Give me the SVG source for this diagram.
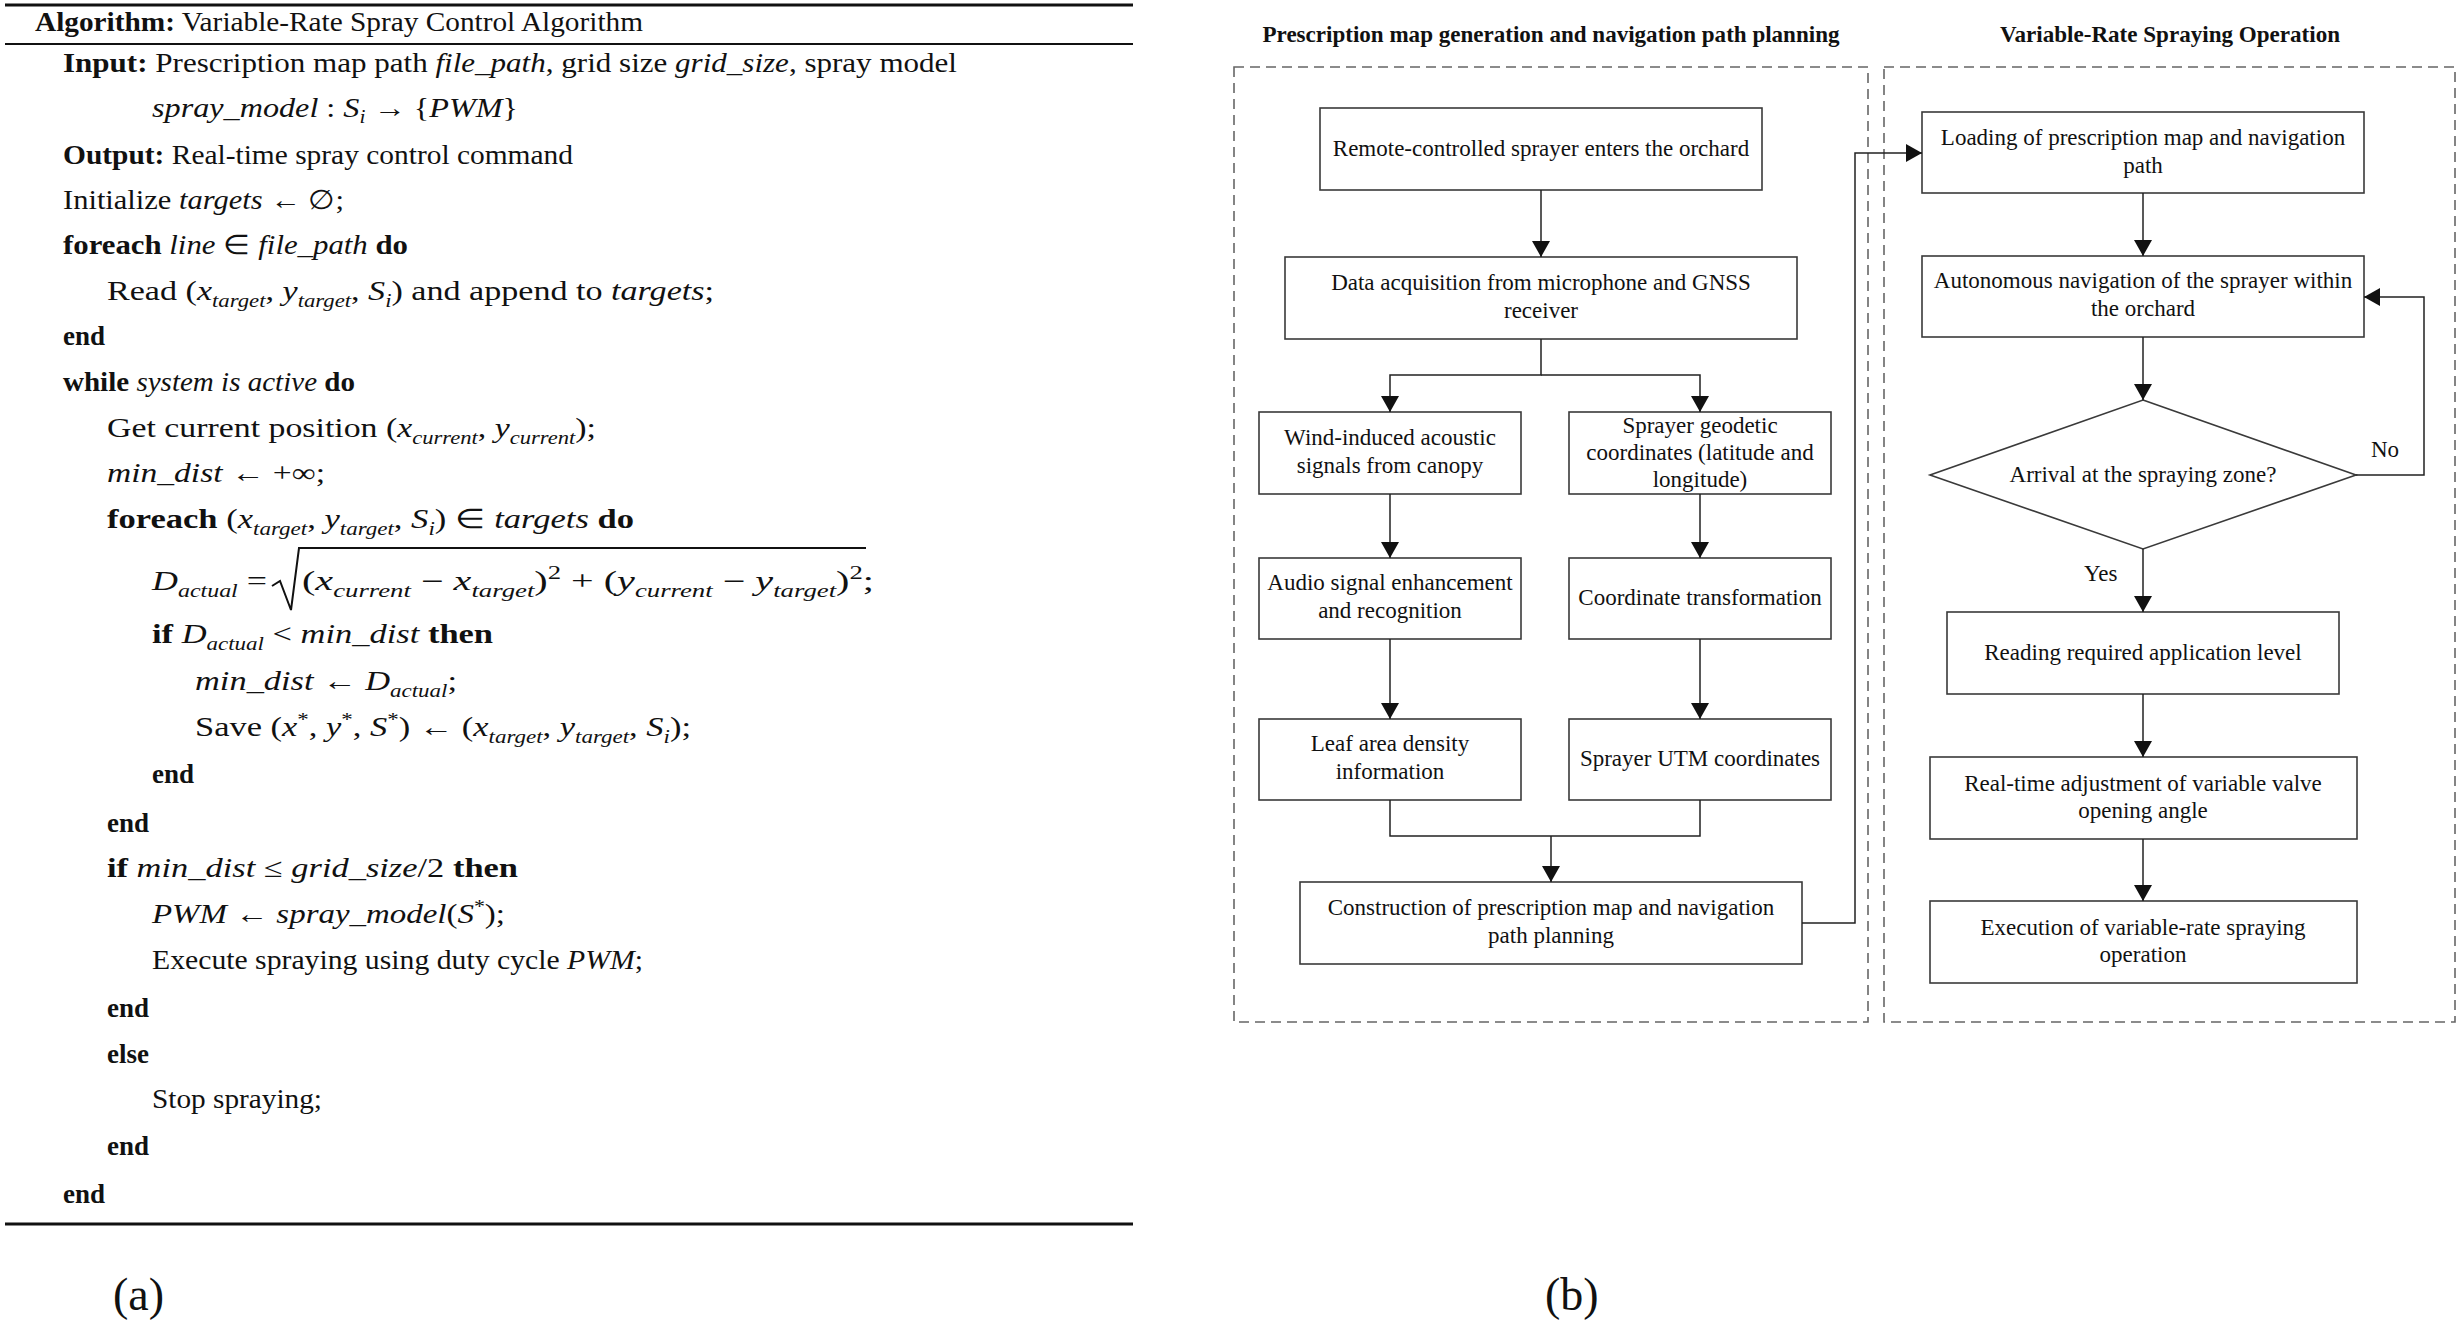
<svg xmlns="http://www.w3.org/2000/svg" width="2461" height="1324" viewBox="0 0 2461 1324">
<style>
text{font-family:"Liberation Serif","Times New Roman",serif;fill:#111}
.alg{font-size:27px}
.b{font-weight:bold}
.i{font-style:italic}
.sub{font-size:18px;font-style:italic}
.node rect,.node polygon{fill:#fff;stroke:#3a3a3a;stroke-width:1.6}
.node text{font-size:23px;text-anchor:middle}
.hdr{font-size:22.5px;font-weight:bold;text-anchor:middle}
.dash{fill:none;stroke:#666;stroke-width:1.6;stroke-dasharray:10 6}
#connectors path{fill:none;stroke:#222;stroke-width:1.5}
.rule{stroke:#111}
</style>
<defs>
<marker id="ah" markerUnits="userSpaceOnUse" markerWidth="18" markerHeight="18" refX="16" refY="9" orient="auto">
<path d="M0,0 L16,9 L0,18 z" fill="#111"/>
</marker>
</defs>
<rect width="2461" height="1324" fill="#fff"/>

<!-- (a) Algorithm -->
<g id="algorithm">
<line class="rule" x1="5" y1="5" x2="1133" y2="5" stroke-width="3"/>
<line class="rule" x1="5" y1="44" x2="1133" y2="44" stroke-width="2"/>
<line class="rule" x1="5" y1="1224" x2="1133" y2="1224" stroke-width="3"/>

<text class="alg" x="35" y="31" textLength="608" lengthAdjust="spacingAndGlyphs"><tspan class="b">Algorithm:</tspan> Variable-Rate Spray Control Algorithm</text>
<text class="alg" x="63" y="72" textLength="894" lengthAdjust="spacingAndGlyphs"><tspan class="b">Input:</tspan> Prescription map path <tspan class="i">file_path</tspan>, grid size <tspan class="i">grid_size</tspan>, spray model</text>
<text class="alg" x="152" y="117" textLength="366" lengthAdjust="spacingAndGlyphs"><tspan class="i">spray_model</tspan> : <tspan class="i">S</tspan><tspan class="sub" dy="6">i</tspan><tspan dy="-6"> → {</tspan><tspan class="i">PWM</tspan>}</text>
<text class="alg" x="63" y="164" textLength="510" lengthAdjust="spacingAndGlyphs"><tspan class="b">Output:</tspan> Real-time spray control command</text>
<text class="alg" x="63" y="209" textLength="281" lengthAdjust="spacingAndGlyphs">Initialize <tspan class="i">targets</tspan> ← ∅;</text>
<text class="alg" x="63" y="254" textLength="345" lengthAdjust="spacingAndGlyphs"><tspan class="b">foreach</tspan> <tspan class="i">line</tspan> ∈ <tspan class="i">file_path</tspan> <tspan class="b">do</tspan></text>
<text class="alg" x="107" y="300" textLength="607" lengthAdjust="spacingAndGlyphs">Read (<tspan class="i">x</tspan><tspan class="sub" dy="7">target</tspan><tspan dy="-7">, </tspan><tspan class="i">y</tspan><tspan class="sub" dy="7">target</tspan><tspan dy="-7">, </tspan><tspan class="i">S</tspan><tspan class="sub" dy="7">i</tspan><tspan dy="-7">) and append to </tspan><tspan class="i">targets</tspan>;</text>
<text class="alg b" x="63" y="345">end</text>
<text class="alg" x="63" y="391" textLength="292" lengthAdjust="spacingAndGlyphs"><tspan class="b">while</tspan> <tspan class="i">system is active</tspan> <tspan class="b">do</tspan></text>
<text class="alg" x="107" y="437" textLength="489" lengthAdjust="spacingAndGlyphs">Get current position (<tspan class="i">x</tspan><tspan class="sub" dy="7">current</tspan><tspan dy="-7">, </tspan><tspan class="i">y</tspan><tspan class="sub" dy="7">current</tspan><tspan dy="-7">);</tspan></text>
<text class="alg" x="107" y="482" textLength="218" lengthAdjust="spacingAndGlyphs"><tspan class="i">min_dist</tspan> ← +∞;</text>
<text class="alg" x="107" y="528" textLength="527" lengthAdjust="spacingAndGlyphs"><tspan class="b">foreach</tspan> (<tspan class="i">x</tspan><tspan class="sub" dy="7">target</tspan><tspan dy="-7">, </tspan><tspan class="i">y</tspan><tspan class="sub" dy="7">target</tspan><tspan dy="-7">, </tspan><tspan class="i">S</tspan><tspan class="sub" dy="7">i</tspan><tspan dy="-7">) ∈ </tspan><tspan class="i">targets</tspan> <tspan class="b">do</tspan></text>
<text class="alg" x="152" y="590" textLength="115" lengthAdjust="spacingAndGlyphs"><tspan class="i">D</tspan><tspan class="sub" dy="7">actual</tspan><tspan dy="-7"> =</tspan></text>
<path d="M272 586 L280 581 L291 610 L299 548 L866 548" fill="none" stroke="#111" stroke-width="2"/>
<text class="alg" x="302" y="590" textLength="572" lengthAdjust="spacingAndGlyphs">(<tspan class="i">x</tspan><tspan class="sub" dy="7">current</tspan><tspan dy="-7"> − </tspan><tspan class="i">x</tspan><tspan class="sub" dy="7">target</tspan><tspan dy="-7">)</tspan><tspan font-size="18" dy="-11">2</tspan><tspan dy="11"> + (</tspan><tspan class="i">y</tspan><tspan class="sub" dy="7">current</tspan><tspan dy="-7"> − </tspan><tspan class="i">y</tspan><tspan class="sub" dy="7">target</tspan><tspan dy="-7">)</tspan><tspan font-size="18" dy="-11">2</tspan><tspan dy="11">;</tspan></text>
<text class="alg" x="152" y="643" textLength="341" lengthAdjust="spacingAndGlyphs"><tspan class="b">if</tspan> <tspan class="i">D</tspan><tspan class="sub" dy="7">actual</tspan><tspan dy="-7"> &lt; </tspan><tspan class="i">min_dist</tspan> <tspan class="b">then</tspan></text>
<text class="alg" x="195" y="690" textLength="262" lengthAdjust="spacingAndGlyphs"><tspan class="i">min_dist</tspan> ← <tspan class="i">D</tspan><tspan class="sub" dy="7">actual</tspan><tspan dy="-7">;</tspan></text>
<text class="alg" x="195" y="736" textLength="496" lengthAdjust="spacingAndGlyphs">Save (<tspan class="i">x</tspan><tspan font-size="18" dy="-10">*</tspan><tspan dy="10">, </tspan><tspan class="i">y</tspan><tspan font-size="18" dy="-10">*</tspan><tspan dy="10">, </tspan><tspan class="i">S</tspan><tspan font-size="18" dy="-10">*</tspan><tspan dy="10">) ← (</tspan><tspan class="i">x</tspan><tspan class="sub" dy="7">target</tspan><tspan dy="-7">, </tspan><tspan class="i">y</tspan><tspan class="sub" dy="7">target</tspan><tspan dy="-7">, </tspan><tspan class="i">S</tspan><tspan class="sub" dy="7">i</tspan><tspan dy="-7">);</tspan></text>
<text class="alg b" x="152" y="783">end</text>
<text class="alg b" x="107" y="832">end</text>
<text class="alg" x="107" y="877" textLength="411" lengthAdjust="spacingAndGlyphs"><tspan class="b">if</tspan> <tspan class="i">min_dist</tspan> ≤ <tspan class="i">grid_size</tspan>/2 <tspan class="b">then</tspan></text>
<text class="alg" x="152" y="923" textLength="353" lengthAdjust="spacingAndGlyphs"><tspan class="i">PWM</tspan> ← <tspan class="i">spray_model</tspan>(<tspan class="i">S</tspan><tspan font-size="18" dy="-10">*</tspan><tspan dy="10">);</tspan></text>
<text class="alg" x="152" y="969" textLength="491" lengthAdjust="spacingAndGlyphs">Execute spraying using duty cycle <tspan class="i">PWM</tspan>;</text>
<text class="alg b" x="107" y="1017">end</text>
<text class="alg b" x="107" y="1063">else</text>
<text class="alg" x="152" y="1108" textLength="170" lengthAdjust="spacingAndGlyphs">Stop spraying;</text>
<text class="alg b" x="107" y="1155">end</text>
<text class="alg b" x="63" y="1203">end</text>
<text x="113" y="1310" font-size="46">(a)</text>
</g>

<!-- (b) Flowchart -->
<g id="panels">
<rect class="dash" x="1234" y="67" width="634" height="955"/>
<rect class="dash" x="1884" y="67" width="571" height="955"/>
<text class="hdr" x="1551" y="42" textLength="577" lengthAdjust="spacingAndGlyphs">Prescription map generation and navigation path planning</text>
<text class="hdr" x="2170" y="42" textLength="340" lengthAdjust="spacingAndGlyphs">Variable-Rate Spraying Operation</text>
<text x="1545" y="1310" font-size="46">(b)</text>
</g>

<g id="n1" class="node"><rect x="1320" y="108" width="442" height="82"/><text x="1541" y="156">Remote-controlled sprayer enters the orchard</text></g>
<g id="n2" class="node"><rect x="1285" y="257" width="512" height="82"/><text x="1541" y="290">Data acquisition from microphone and GNSS</text><text x="1541" y="318">receiver</text></g>
<g id="n3" class="node"><rect x="1259" y="412" width="262" height="82"/><text x="1390" y="445">Wind-induced acoustic</text><text x="1390" y="473">signals from canopy</text></g>
<g id="n4" class="node"><rect x="1569" y="412" width="262" height="82"/><text x="1700" y="433">Sprayer geodetic</text><text x="1700" y="460">coordinates (latitude and</text><text x="1700" y="487">longitude)</text></g>
<g id="n5" class="node"><rect x="1259" y="558" width="262" height="81"/><text x="1390" y="590">Audio signal enhancement</text><text x="1390" y="618">and recognition</text></g>
<g id="n6" class="node"><rect x="1569" y="558" width="262" height="81"/><text x="1700" y="605">Coordinate transformation</text></g>
<g id="n7" class="node"><rect x="1259" y="719" width="262" height="81"/><text x="1390" y="751">Leaf area density</text><text x="1390" y="779">information</text></g>
<g id="n8" class="node"><rect x="1569" y="719" width="262" height="81"/><text x="1700" y="766">Sprayer UTM coordinates</text></g>
<g id="n9" class="node"><rect x="1300" y="882" width="502" height="82"/><text x="1551" y="915">Construction of prescription map and navigation</text><text x="1551" y="943">path planning</text></g>

<g id="r1" class="node"><rect x="1922" y="112" width="442" height="81"/><text x="2143" y="145">Loading of prescription map and navigation</text><text x="2143" y="173">path</text></g>
<g id="r2" class="node"><rect x="1922" y="256" width="442" height="81"/><text x="2143" y="288">Autonomous navigation of the sprayer within</text><text x="2143" y="316">the orchard</text></g>
<g id="r3" class="node"><polygon points="2143,400 2356,475 2143,549 1930,475"/><text x="2143" y="482">Arrival at the spraying zone?</text></g>
<g id="r4" class="node"><rect x="1947" y="612" width="392" height="82"/><text x="2143" y="660">Reading required application level</text></g>
<g id="r5" class="node"><rect x="1930" y="757" width="427" height="82"/><text x="2143" y="791">Real-time adjustment of variable valve</text><text x="2143" y="818">opening angle</text></g>
<g id="r6" class="node"><rect x="1930" y="901" width="427" height="82"/><text x="2143" y="935">Execution of variable-rate spraying</text><text x="2143" y="962">operation</text></g>

<g id="connectors">
<path d="M1541 190 V257" marker-end="url(#ah)"/>
<path d="M1541 339 V375 H1390 V412" marker-end="url(#ah)"/>
<path d="M1541 375 H1700 V412" marker-end="url(#ah)"/>
<path d="M1390 494 V558" marker-end="url(#ah)"/>
<path d="M1700 494 V558" marker-end="url(#ah)"/>
<path d="M1390 639 V719" marker-end="url(#ah)"/>
<path d="M1700 639 V719" marker-end="url(#ah)"/>
<path d="M1390 800 V836 H1700 V800"/>
<path d="M1551 836 V882" marker-end="url(#ah)"/>
<path d="M1802 923 H1855 V153 H1922" marker-end="url(#ah)"/>
<path d="M2143 193 V256" marker-end="url(#ah)"/>
<path d="M2143 337 V400" marker-end="url(#ah)"/>
<path d="M2356 475 H2424 V297 H2364" marker-end="url(#ah)"/>
<path d="M2143 549 V612" marker-end="url(#ah)"/>
<path d="M2143 694 V757" marker-end="url(#ah)"/>
<path d="M2143 839 V901" marker-end="url(#ah)"/>
<text x="2371" y="457" font-size="23">No</text>
<text x="2084" y="581" font-size="23">Yes</text>
</g>
</svg>
